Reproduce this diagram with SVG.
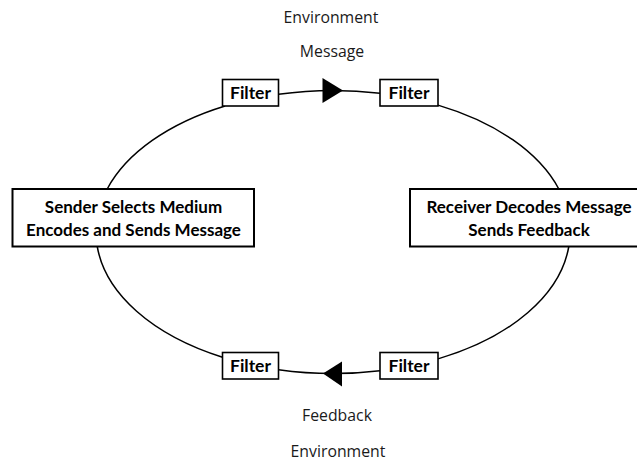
<svg xmlns="http://www.w3.org/2000/svg" width="637" height="461" viewBox="0 0 637 461">
  <style>
    .box { fill: #ffffff; stroke: #000000; stroke-width: 2; }
    .filter { fill: #ffffff; stroke: #000000; stroke-width: 1.6; }
    .lbl { font-family: Lato, "Open Sans", sans-serif; font-weight: bold; font-size: 17px; fill: #000000; text-anchor: middle; }
    .flbl { font-family: Lato, "Open Sans", sans-serif; font-weight: bold; font-size: 17.5px; fill: #000000; text-anchor: middle; }
    .note { font-family: "Open Sans", "Noto Sans", sans-serif; font-size: 15.8px; fill: #1a1a1a; text-anchor: middle; }
    .arc { fill: none; stroke: #000000; stroke-width: 1.5; }
    .head { fill: #000000; }
  </style>

  <rect width="637" height="461" fill="#ffffff"/>

  <!-- annotations -->
  <text class="note" x="331" y="23">Environment</text>
  <text class="note" x="332" y="57">Message</text>
  <text class="note" x="337" y="421">Feedback</text>
  <text class="note" x="338" y="456.5">Environment</text>

  <!-- communication loop: elliptical arcs between the stages -->
  <g id="connectors">
    <path class="arc" d="M107.2,189 A237,141.5 0 0 1 225.1,106"/>
    <path class="arc" d="M278.5,94.3 A237,141.5 0 0 1 380,93.3"/>
    <path class="arc" d="M438,105.1 A237,141.5 0 0 1 558.8,189"/>
    <path class="arc" d="M568.8,246.5 A237,141.5 0 0 1 438,358.9"/>
    <path class="arc" d="M380,370.7 A237,141.5 0 0 1 278.5,369.7"/>
    <path class="arc" d="M222.5,357.2 A237,141.5 0 0 1 97.25,246.5"/>
    <polygon class="head" points="322.5,78 343,90.5 322.5,103"/>
    <polygon class="head" points="342,361.5 323,373.5 342,386.5"/>
  </g>

  <g id="sender">
    <rect class="box" x="12.5" y="189" width="241.5" height="57.5"/>
    <text class="lbl" x="133.5" y="213">Sender Selects Medium</text>
    <text class="lbl" x="133.5" y="236">Encodes and Sends Message</text>
  </g>

  <g id="receiver">
    <rect class="box" x="410" y="189" width="240" height="57.5"/>
    <text class="lbl" x="529" y="213">Receiver Decodes Message</text>
    <text class="lbl" x="529" y="236">Sends Feedback</text>
  </g>

  <g id="filter-top-left">
    <rect class="filter" x="222.5" y="79.5" width="56" height="26.5"/>
    <text class="flbl" x="250.5" y="98.5">Filter</text>
  </g>
  <g id="filter-top-right">
    <rect class="filter" x="380" y="79.5" width="58" height="26.5"/>
    <text class="flbl" x="409" y="98.5">Filter</text>
  </g>
  <g id="filter-bottom-right">
    <rect class="filter" x="380" y="352.5" width="58" height="26.5"/>
    <text class="flbl" x="409" y="371.5">Filter</text>
  </g>
  <g id="filter-bottom-left">
    <rect class="filter" x="222.5" y="352.5" width="56" height="26.5"/>
    <text class="flbl" x="250.5" y="371.5">Filter</text>
  </g>
</svg>
